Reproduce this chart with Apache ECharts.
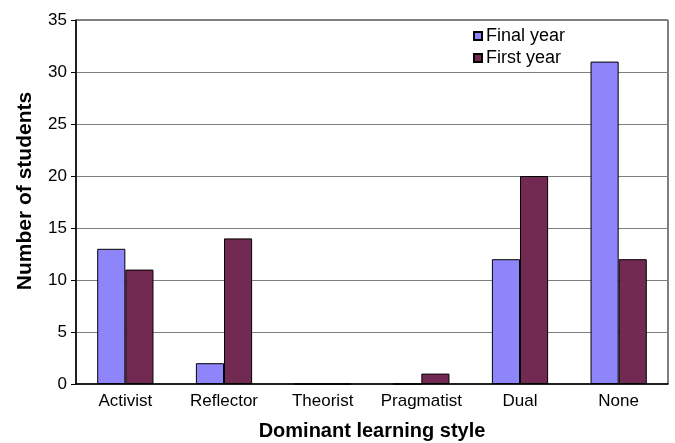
<!DOCTYPE html>
<html>
<head>
<meta charset="utf-8">
<script src="https://cdn.jsdelivr.net/npm/echarts@6/dist/echarts.min.js"></script>
<style>
  html, body { margin: 0; padding: 0; background: #fff; }
  #chart { width: 675px; height: 443px; }
</style>
</head>
<body>
<div id="chart"></div>
<script>
const categories = ['Activist', 'Reflector', 'Theorist', 'Pragmatist', 'Dual', 'None']
const finalYear = [13, 2, 0, 0, 12, 31]
const firstYear = [11, 14, 0, 1, 20, 12]
const yTicks = { min: 0, max: 35, interval: 5 }

const font = 'Liberation Sans, Arial, sans-serif'

const chart = echarts.init(document.getElementById('chart'))
chart.setOption({
  animation: false,
  grid: {
    left: 76,
    right: 7,
    top: 20,
    bottom: 59,
    outerBoundsMode: 'none',
    containLabel: false,
    show: true,
    borderColor: '#000',
    borderWidth: 1
  },
  legend: {
    orient: 'vertical',
    left: 468,
    top: 22,
    itemWidth: 8,
    itemHeight: 8,
    itemGap: 4,
    icon: 'rect',
    textStyle: { fontFamily: font, fontSize: 18, color: '#000', padding: [0, 0, 0, -1] },
    data: ['Final year', 'First year']
  },
  xAxis: {
    type: 'category',
    data: categories,
    name: 'Dominant learning style',
    nameLocation: 'middle',
    nameGap: 37,
    nameTextStyle: { fontFamily: font, fontSize: 20, fontWeight: 'bold', color: '#000' },
    axisLine: { lineStyle: { color: '#000', width: 1.5 } },
    axisTick: { length: 5, lineStyle: { color: '#000' } },
    axisLabel: { fontFamily: font, fontSize: 17, color: '#000', margin: 9, interval: 0 }
  },
  yAxis: {
    type: 'value',
    min: yTicks.min,
    max: yTicks.max,
    interval: yTicks.interval,
    name: 'Number of students',
    nameLocation: 'middle',
    nameGap: 40,
    nameTextStyle: { fontFamily: font, fontSize: 21, fontWeight: 'bold', color: '#000', padding: [0, 0, 0, 22] },
    axisLine: { show: true, lineStyle: { color: '#000', width: 1.5 } },
    axisTick: { show: true, length: 5, lineStyle: { color: '#000' } },
    axisLabel: { fontFamily: font, fontSize: 17, color: '#000', margin: 9 },
    splitLine: { lineStyle: { color: '#808080', width: 1 } }
  },
  series: [
    {
      name: 'Final year',
      type: 'bar',
      data: finalYear,
      barWidth: '28.5%',
      barGap: '0%',
      itemStyle: { color: '#8E85FA', borderColor: '#000', borderWidth: 1 }
    },
    {
      name: 'First year',
      type: 'bar',
      data: firstYear,
      barWidth: '28.5%',
      barGap: '0%',
      itemStyle: { color: '#722952', borderColor: '#000', borderWidth: 1 }
    }
  ]
})
</script>
</body>
</html>
